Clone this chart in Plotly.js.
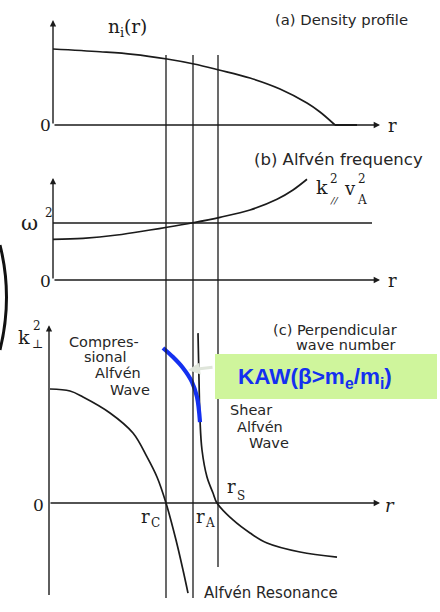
<!DOCTYPE html>
<html>
<head>
<meta charset="utf-8">
<script src="https://cdn.plot.ly/plotly-3.0.1.min.js"></script>
<style>
  html, body { margin: 0; padding: 0; background: #ffffff; }
  #chart { width: 440px; height: 612px; }
</style>
</head>
<body>
<div id="chart"></div>
<script>
// Radial positions of the three critical surfaces
const rC = 1.15;   // compressional cut-off
const rA = 1.42;   // Alfvén resonance
const rS = 1.67;   // shear-wave cut-off

// (a) ion density profile n_i(r), falling to zero at the edge
const rDensity = [0.02, 0.49, 0.82, 1.16, 1.43, 1.68, 1.99, 2.29, 2.56, 2.69, 2.84];
const nDensity = [1.00, 0.964, 0.93, 0.868, 0.803, 0.724, 0.618, 0.474, 0.289, 0.171, 0.0];
// vacuum region beyond the edge
const rVacuum = [2.84, 3.06];
const nVacuum = [0.0, 0.0];

// (b) wave frequency and local Alfvén frequency k_par^2 v_A^2
const rOmega = [0.02, 3.21];
const omega2 = [1.0, 1.0];
const rAlfven = [0.02, 0.32, 0.66, 0.99, 1.16, 1.42, 1.69, 1.99, 2.26, 2.42, 2.56];
const kvA2 = [0.714, 0.732, 0.789, 0.877, 0.925, 1.005, 1.10, 1.228, 1.416, 1.579, 1.767];

// (c) perpendicular wave number k_perp^2
const rComp = [-0.01, 0.19, 0.32, 0.59, 0.82, 0.96, 1.06, 1.15, 1.25, 1.32, 1.37];
const kComp = [1.0, 0.982, 0.93, 0.79, 0.614, 0.404, 0.228, 0.0, -0.325, -0.588, -0.79];
const rShear = [1.47, 1.48, 1.49, 1.51, 1.56, 1.62, 1.66, 1.82, 1.99, 2.16, 2.49, 2.86];
const kShear = [1.49, 1.08, 0.728, 0.465, 0.228, 0.088, 0.0, -0.149, -0.263, -0.351, -0.43, -0.474];
const rKAW = [1.12, 1.22, 1.32, 1.41, 1.46, 1.49];
const kKAW = [1.36, 1.28, 1.184, 1.061, 0.93, 0.71];

const W = 440, H = 612;
const X = p => p / W;          // pixel -> paper fraction (x)
const Y = p => 1 - p / H;      // pixel -> paper fraction (y)

// one stacked panel: its vertical band, the pixel row of zero and of value 1
function band(top, bottom, zeroPx, unitPx) {
  const per = zeroPx - unitPx;
  return {
    domain: [Y(bottom), Y(top)],
    range: [(zeroPx - bottom) / per, (zeroPx - top) / per],
    visible: false, fixedrange: true, anchor: 'x'
  };
}

const black = '#1b1b1b';
const curve = (x, y, ax, w, shape) => ({
  type: 'scatter', mode: 'lines', x: x, y: y, yaxis: ax,
  line: { color: black, width: w || 1.7, shape: shape || 'spline', smoothing: 1 },
  hoverinfo: 'skip', showlegend: false
});

const traces = [
  curve(rDensity, nDensity, 'y'),
  curve(rVacuum, nVacuum, 'y', 2, 'linear'),
  curve(rOmega, omega2, 'y2', 1.6, 'linear'),
  curve(rAlfven, kvA2, 'y2'),
  curve(rComp, kComp, 'y3'),
  curve(rShear, kShear, 'y3'),
  {
    type: 'scatter', mode: 'lines', x: rKAW, y: kKAW, yaxis: 'y3',
    line: { color: '#1430f0', width: 4.2, shape: 'spline' },
    hoverinfo: 'skip', showlegend: false
  }
];

// axis arrows drawn in data coordinates
function arrow(yref, x, y, ax, ay) {
  return {
    xref: 'x', yref: yref, axref: 'x', ayref: yref,
    x: x, y: y, ax: ax, ay: ay, text: '', showarrow: true,
    arrowhead: 2, arrowsize: 0.9, arrowwidth: 1.4, arrowcolor: black, standoff: 0
  };
}

const serif = 'DejaVu Serif, Liberation Serif, serif';
const sans = 'DejaVu Sans, Liberation Sans, sans-serif';

function label(text, x, y, opts) {
  opts = opts || {};
  return {
    xref: 'paper', yref: 'paper', x: X(x), y: Y(y), text: text, showarrow: false,
    xanchor: opts.anchor || 'left', yanchor: 'middle',
    font: { family: opts.family || sans, size: opts.size || 14.5, color: opts.color || '#262626',
            style: opts.style || 'normal', weight: opts.weight || 'normal' }
  };
}

const annotations = [
  // axes
  arrow('y', 0.02, 1.38, 0.02, 0), arrow('y', 3.29, 0, 0.02, 0),
  arrow('y2', 0.02, 1.79, 0.02, 0), arrow('y2', 3.29, 0, 0.02, 0),
  arrow('y3', -0.02, 1.56, -0.02, -0.82), arrow('y3', 3.29, 0, -0.02, 0),

  // panel (a)
  label('(a) Density profile', 273, 20, { size: 14.8 }),
  label('n<sub>i</sub>(r)', 106, 28, { family: serif, size: 18.5, color: black }),
  label('0', 45, 125, { family: serif, size: 17, anchor: 'center', color: black }),
  label('r', 392, 126, { family: serif, size: 18, anchor: 'center', color: black }),

  // panel (b)
  label('(b) Alfvén frequency', 252, 160, { size: 16.5 }),
  label('ω', 19, 223, { family: serif, size: 21, color: black }),
  label('2', 43, 213, { family: serif, size: 12, color: black }),
  label('0', 45, 281, { family: serif, size: 17, anchor: 'center', color: black }),
  label('r', 392, 281, { family: serif, size: 18, anchor: 'center', color: black }),
  label('k', 314, 187, { family: serif, size: 19, color: black }),
  label('2', 328, 179, { family: serif, size: 12, color: black }),
  label('//', 328, 201, { family: serif, size: 10, style: 'italic', color: black }),
  label('v', 342, 188, { family: serif, size: 18, color: black }),
  label('2', 356, 179, { family: serif, size: 12, color: black }),
  label('A', 355, 200, { family: serif, size: 12, color: black }),

  // panel (c)
  label('(c) Perpendicular', 399, 330, { size: 14.5, anchor: 'right' }),
  label('wave number', 397, 345, { size: 14.5, anchor: 'right' }),
  label('k', 16, 337, { family: serif, size: 19, color: black }),
  label('2', 31, 326, { family: serif, size: 12, color: black }),
  label('⊥', 30, 344, { family: serif, size: 12, color: black }),
  label('Compres-', 67, 342),
  label('sional', 82, 357),
  label('Alfvén', 93, 373),
  label('Wave', 108, 390),
  label('Shear', 228, 410),
  label('Alfvén', 235, 427),
  label('Wave', 247, 443),
  label('0', 38, 505, { family: serif, size: 17, anchor: 'center', color: black }),
  label('r', 390, 505, { family: serif, size: 18, anchor: 'center', style: 'italic', color: black }),
  label('r', 225, 487, { family: serif, size: 18, color: black }),
  label('S', 235, 496, { family: serif, size: 12, color: black }),
  label('r', 139, 516, { family: serif, size: 18, color: black }),
  label('C', 149, 523, { family: serif, size: 12, color: black }),
  label('r', 194, 516, { family: serif, size: 18, color: black }),
  label('A', 203, 523, { family: serif, size: 12, color: black }),
  label('Alfvén Resonance', 202, 593, { size: 15 }),

  // kinetic Alfvén wave tag
  label('<b>KAW(β&gt;m<sub>e</sub>/m<sub>i</sub>)</b>', 315, 378,
        { family: 'Liberation Sans, Arial, sans-serif', size: 22.5, anchor: 'center', color: '#1430f0' }),
  {
    xref: 'paper', yref: 'paper', x: X(188), y: Y(370), ax: 26, ay: -3,
    text: '', showarrow: true, arrowhead: 2, arrowsize: 0.8, arrowwidth: 3,
    arrowcolor: '#dfe5da', standoff: 0
  }
];

const vline = (r, bottomPx) => ({
  type: 'line', xref: 'x', yref: 'paper', x0: r, x1: r, y0: Y(bottomPx), y1: Y(55),
  line: { color: black, width: 1.3 }
});

const shapes = [
  vline(rC, 598), vline(rA, 598), vline(rS, 567),
  // green tag box
  {
    type: 'rect', xref: 'paper', yref: 'paper', x0: X(215), x1: X(437), y0: Y(399), y1: Y(354),
    fillcolor: '#cff59c', line: { width: 0 }, layer: 'above'
  },
  // bracket edge at the left margin
  {
    type: 'path', xref: 'paper', yref: 'paper',
    path: `M 0 ${Y(245)} Q ${X(13)} ${Y(297)} 0 ${Y(350)}`,
    line: { color: '#111', width: 3 }
  }
];

const layout = {
  width: W, height: H,
  margin: { l: 0, r: 0, t: 0, b: 0 },
  paper_bgcolor: '#ffffff', plot_bgcolor: 'rgba(0,0,0,0)',
  showlegend: false,
  xaxis: { range: [-0.51, 3.89], domain: [0, 1], visible: false, fixedrange: true },
  yaxis: band(5, 140, 125, 49),
  yaxis2: band(150, 295, 280, 223),
  yaxis3: band(310, 612, 503, 389),
  shapes: shapes,
  annotations: annotations
};

Plotly.newPlot('chart', traces, layout, { staticPlot: true, displayModeBar: false });
</script>
</body>
</html>
